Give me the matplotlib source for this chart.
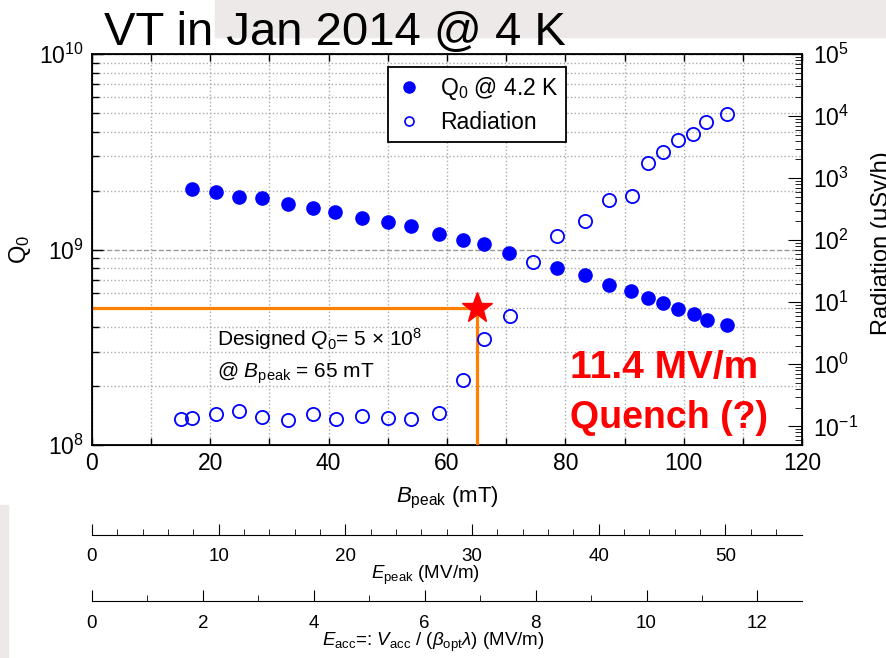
import matplotlib
matplotlib.use("Agg")
import matplotlib.pyplot as plt
from matplotlib.lines import Line2D
from matplotlib.patches import Rectangle
from matplotlib.ticker import MultipleLocator, LogLocator, NullFormatter, FixedLocator

plt.rcParams['font.family'] = ['Liberation Sans', 'DejaVu Sans']
plt.rcParams['mathtext.fontset'] = 'custom'
plt.rcParams['mathtext.rm'] = 'Liberation Sans'
plt.rcParams['mathtext.it'] = 'Liberation Sans:italic'
plt.rcParams['mathtext.bf'] = 'Liberation Sans:bold'

# Q0 at 4.2 K vs Bpeak
bpeak_q0 = [16.9, 21.0, 24.8, 28.7, 33.1, 37.3, 41.1, 45.6, 50.0, 53.9, 58.6, 62.7,
            66.2, 70.5, 78.6, 83.3, 87.4, 91.1, 94.0, 96.5, 99.1, 101.7, 103.9, 107.3]
q0 = [2.04e9, 1.97e9, 1.86e9, 1.83e9, 1.71e9, 1.63e9, 1.56e9, 1.45e9, 1.38e9, 1.32e9,
      1.20e9, 1.12e9, 1.07e9, 0.96e9, 8.04e8, 7.41e8, 6.58e8, 6.13e8, 5.65e8, 5.33e8,
      4.96e8, 4.68e8, 4.36e8, 4.11e8]

# radiation (uSv/h) vs Bpeak
bpeak_rad = [15.0, 16.9, 21.0, 24.8, 28.7, 33.1, 37.3, 41.2, 45.6, 50.0, 53.9, 58.6, 62.7,
             66.2, 70.6, 74.5, 78.6, 83.3, 87.4, 91.3, 94.0, 96.5, 99.1, 101.6, 103.8, 107.3]
radiation = [0.131, 0.136, 0.158, 0.177, 0.141, 0.126, 0.158, 0.131, 0.147, 0.136, 0.131,
             0.164, 0.557, 2.55, 6.0, 44.4, 117, 204, 444, 515, 1750, 2635, 4110, 5140,
             8020, 10790]

design_b = 65
design_q0 = 5e8

# field ratios for the extra scales
epeak_per_b = 0.467
eacc_per_b = 0.1067
epeak_ticks = [0, 10, 20, 30, 40, 50]
eacc_ticks = [0, 2, 4, 6, 8, 10, 12]

BLUE = '#0000ff'
ORANGE = '#ff8000'

fig = plt.figure(figsize=(8.87, 6.58), dpi=100)
fig.patches.append(Rectangle((0.2424, 0.9438), 0.76, 0.06, transform=fig.transFigure,
                             color='#eee9e9', zorder=0))
fig.patches.append(Rectangle((0, 0), 8 / 887, 0.2325, transform=fig.transFigure,
                             color='#eee9e9', zorder=0))

ax = fig.add_axes([0.1037, 0.3237, 0.8005, 0.5942])
ax.set_yscale('log')
ax.set_xlim(0, 120)
ax.set_ylim(1e8, 1e10)

ax.xaxis.set_major_locator(MultipleLocator(20))
ax.xaxis.set_minor_locator(MultipleLocator(10))
ax.yaxis.set_minor_locator(LogLocator(base=10, subs=range(2, 10), numticks=20))
ax.yaxis.set_minor_formatter(NullFormatter())
ax.grid(which='both', axis='x', ls=':', color='#aaaaaa', lw=1)
ax.grid(which='minor', axis='y', ls=':', color='#aaaaaa', lw=1)
ax.grid(which='major', axis='y', ls='--', color='#999999', lw=1)
ax.set_axisbelow(True)
ax.tick_params(which='both', direction='in', top=True, labelsize=16.5, width=1)
ax.tick_params(axis='x', which='both', length=5, pad=5)
ax.tick_params(axis='y', which='major', length=8, pad=6)
ax.tick_params(axis='y', which='minor', length=5)
for s in ax.spines.values():
    s.set_linewidth(1.3)

ax.plot([0, design_b], [design_q0, design_q0], color=ORANGE, lw=2.3, zorder=3)
ax.plot([design_b, design_b], [1e8, design_q0], color=ORANGE, lw=2.3, zorder=3)
ax.plot(bpeak_q0, q0, 'o', color=BLUE, ms=9.5, zorder=4)
ax.plot([design_b], [design_q0], '*', color='red', ms=23, zorder=5)

ax.set_xlabel(r'$B_{\mathrm{peak}}$ (mT)', fontsize=16, labelpad=7)
ax.set_ylabel(r'Q$_0$', fontsize=17, labelpad=4)

ax.text(0.176, 0.253, r'Designed $Q_0$= 5 × 10$^8$', transform=ax.transAxes, fontsize=15)
ax.text(0.176, 0.171, r'@ $B_{\mathrm{peak}}$ = 65 mT', transform=ax.transAxes, fontsize=15)
ax.text(0.673, 0.171, '11.4 MV/m', transform=ax.transAxes, fontsize=28,
        fontweight='bold', color='red')
ax.text(0.673, 0.0435, 'Quench (?)', transform=ax.transAxes, fontsize=27,
        fontweight='bold', color='red')

ax2 = ax.twinx()
ax2.set_yscale('log')
ax2.set_ylim(0.05, 1e5)
ax2.yaxis.set_major_locator(LogLocator(base=10, numticks=20))
ax2.yaxis.set_minor_locator(LogLocator(base=10, subs=range(2, 10), numticks=20))
ax2.yaxis.set_minor_formatter(NullFormatter())
ax2.tick_params(which='both', direction='in', labelsize=16.5)
ax2.tick_params(which='major', length=10, pad=8)
ax2.tick_params(which='minor', length=5)
ax2.plot(bpeak_rad, radiation, 'o', mfc='none', mec=BLUE, mew=1.3, ms=9.5, zorder=4)
fig.text(871 / 887, 0.63, 'Radiation (μSv/h)', rotation=90, fontsize=17,
         ha='left', va='center')

handles = [Line2D([], [], marker='o', ls='none', color=BLUE, ms=8),
           Line2D([], [], marker='o', ls='none', mfc='none', mec=BLUE, mew=1.2, ms=6.5)]
leg = ax2.legend(handles, [r'Q$_0$ @ 4.2 K', 'Radiation'], loc='upper left',
                 bbox_to_anchor=(0.417, 0.967), borderaxespad=0, fontsize=16.5,
                 fancybox=False, framealpha=1, edgecolor='black', labelspacing=0.4,
                 handlelength=1.1, handletextpad=0.8, borderpad=0.35)
leg.get_frame().set_linewidth(1.3)

# extra scales under the plot
sec1 = ax.secondary_xaxis(-0.2302, functions=(lambda b: b * epeak_per_b,
                                              lambda e: e / epeak_per_b))
sec1.xaxis.set_major_locator(FixedLocator(epeak_ticks))
sec1.xaxis.set_minor_locator(FixedLocator(list(range(0, 56, 2))))
sec1.tick_params(which='major', direction='in', length=8, labelsize=13.5, pad=9)
sec1.tick_params(which='minor', direction='in', length=4)
sec1.set_xlabel(r'$E_{\mathrm{peak}}$ (MV/m)', fontsize=13.5)
sec1.xaxis.set_label_coords(0.47, -0.305, transform=ax.transAxes)

sec2 = ax.secondary_xaxis(-0.399, functions=(lambda b: b * eacc_per_b,
                                             lambda e: e / eacc_per_b))
sec2.xaxis.set_major_locator(FixedLocator(eacc_ticks))
sec2.xaxis.set_minor_locator(FixedLocator(list(range(0, 13))))
sec2.tick_params(which='major', direction='in', length=8, labelsize=13.5, pad=10)
sec2.tick_params(which='minor', direction='in', length=4)
sec2.set_xlabel(r'$E_{\mathrm{acc}}$=: $V_{\mathrm{acc}}$ / ($\beta_{\mathrm{opt}}\lambda$) (MV/m)',
                fontsize=13.5)
sec2.xaxis.set_label_coords(0.48, -0.475, transform=ax.transAxes)

fig.text(104 / 887, 1 - 45 / 658, 'VT in Jan 2014 @ 4 K', fontsize=34, va='baseline')

fig.savefig('out.png', dpi=100)
